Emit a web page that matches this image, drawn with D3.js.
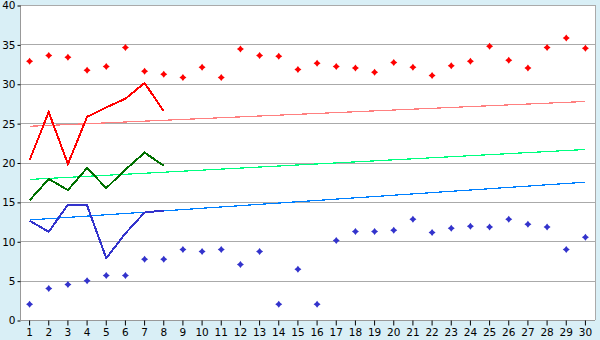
<!DOCTYPE html>
<html>
<head>
<meta charset="utf-8">
<script src="https://cdn.jsdelivr.net/npm/d3@7"></script>
<style>
  body { margin: 0; background: #d9eff6; }
  svg { display: block; }
</style>
</head>
<body>
<div id="chart"></div>
<script>
var days = d3.range(1, 31)

var redDots = [32.85, 33.6, 33.35, 31.7, 32.2, 34.6, 31.6, 31.2, 30.8, 32.1,
  30.8, 34.4, 33.6, 33.5, 31.8, 32.6, 32.2, 32.0, 31.45, 32.7,
  32.1, 31.05, 32.3, 32.85, 34.75, 33.0, 32.0, 34.6, 35.8, 34.5]

var blueDots = [2.0, 4.0, 4.5, 5.0, 5.65, 5.65, 7.7, 7.7, 8.95, 8.7,
  8.95, 7.05, 8.7, 2.0, 6.45, 2.0, 10.1, 11.25, 11.25, 11.4,
  12.8, 11.1, 11.65, 11.9, 11.8, 12.8, 12.15, 11.8, 8.95, 10.5]

var redLine = [20.3, 26.4, 19.8, 25.8, 27.0, 28.1, 30.1, 26.5]
var greenLine = [15.2, 17.9, 16.5, 19.3, 16.75, 19.1, 21.25, 19.6]
var blueLine = [12.6, 11.2, 14.65, 14.55, 7.85, 11.0, 13.65, 13.9]

// trend lines: value at day 1 and day 30
var redTrend = [24.6, 27.75]
var greenTrend = [17.85, 21.65]
var blueTrend = [12.7, 17.5]

var yTicks = [0, 5, 10, 15, 20, 25, 30, 35, 40]

var width = 600, height = 340
var plotLeft = 20, plotRight = 595, plotTop = 5, plotBottom = 320

var svg = d3.select('#chart').append('svg')
  .attr('width', width)
  .attr('height', height)

var x = d3.scaleBand()
  .domain(days)
  .range([plotLeft, plotRight])

var cx = function (d) { return x(d) + x.bandwidth() / 2 }

var y = d3.scaleLinear()
  .domain([0, 40])
  .range([plotBottom, plotTop])

svg.append('rect')
  .attr('x', plotLeft)
  .attr('y', plotTop)
  .attr('width', plotRight - plotLeft)
  .attr('height', plotBottom - plotTop)
  .attr('fill', '#fff')

// grid
svg.append('g')
  .selectAll('line')
  .data(yTicks.slice(1))
  .enter().append('line')
  .attr('x1', plotLeft)
  .attr('x2', plotRight)
  .attr('y1', function (d) { return Math.round(y(d)) + 0.5 })
  .attr('y2', function (d) { return Math.round(y(d)) + 0.5 })
  .attr('stroke', '#aaaaaa')

svg.append('line')
  .attr('x1', plotRight + 0.5).attr('x2', plotRight + 0.5)
  .attr('y1', plotTop).attr('y2', plotBottom)
  .attr('stroke', '#aaaaaa')

// axes
var yAxis = svg.append('g')
  .attr('transform', 'translate(' + (plotLeft + 0.5) + ',0.5)')
  .call(d3.axisLeft(y).tickValues(yTicks).tickSize(3).tickPadding(2))
var xAxis = svg.append('g')
  .attr('transform', 'translate(0,' + (plotBottom + 0.5) + ')')
  .call(d3.axisBottom(x).tickSize(5).tickPadding(3))

svg.selectAll('.domain').attr('stroke', '#999999')
svg.selectAll('.tick line').attr('stroke', '#000')
svg.selectAll('.tick text')
  .attr('fill', '#000')
  .style('font-family', '"DejaVu Sans", Verdana, sans-serif')
  .style('font-size', '10.5px')
yAxis.select('.domain').attr('d', 'M0,' + plotTop + 'V' + plotBottom)
xAxis.select('.domain').attr('d', 'M' + plotLeft + ',0H' + plotRight)

// trend lines
function trend(vals, color) {
  svg.append('line')
    .attr('x1', cx(days[0]))
    .attr('x2', cx(days[days.length - 1]))
    .attr('y1', y(vals[0]))
    .attr('y2', y(vals[1]))
    .attr('stroke', color)
    .attr('stroke-width', 1.2)
    .attr('shape-rendering', 'crispEdges')
}
trend(redTrend, '#ff8080')
trend(greenTrend, '#00ff80')
trend(blueTrend, '#0080ff')

// lines
var line = d3.line()
  .x(function (d, i) { return cx(days[i]) })
  .y(function (d) { return y(d) })

function drawLine(vals, color) {
  svg.append('path')
    .datum(vals)
    .attr('d', line)
    .attr('fill', 'none')
    .attr('stroke', color)
    .attr('stroke-width', 2)
    .attr('stroke-linejoin', 'miter')
    .attr('shape-rendering', 'crispEdges')
}
drawLine(redLine, '#ff0000')
drawLine(greenLine, '#007000')
drawLine(blueLine, '#3333cc')

// scatter markers
var marker = 'M0,-3.5L1.5,-1.5L3.5,0L1.5,1.5L0,3.5L-1.5,1.5L-3.5,0L-1.5,-1.5Z'

function dots(vals, color) {
  svg.append('g')
    .selectAll('path')
    .data(vals)
    .enter().append('path')
    .attr('d', marker)
    .attr('transform', function (d, i) {
      return 'translate(' + cx(days[i]) + ',' + y(d) + ')'
    })
    .attr('fill', color)
}
dots(redDots, '#ff0000')
dots(blueDots, '#3333cc')
</script>
</body>
</html>
